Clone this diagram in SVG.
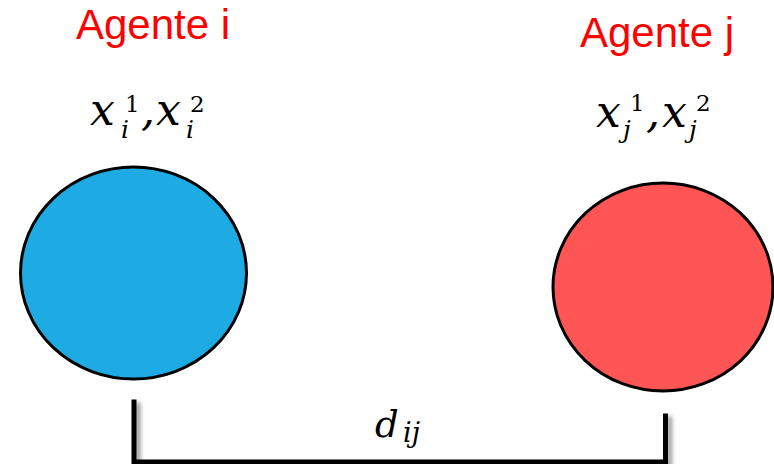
<svg xmlns="http://www.w3.org/2000/svg" width="774" height="464" viewBox="0 0 774 464">
<defs>
<style>
.lbl{font-family:"Liberation Sans",Arial,sans-serif;font-size:42px;fill:#ff0000;text-anchor:middle}
.m{font-family:"DejaVu Serif",serif;font-style:italic;font-size:44px;fill:#000}
.s{font-size:25px}
.n{font-family:"DejaVu Serif",serif;font-style:normal;font-size:23px}
.node{stroke:#000;stroke-width:3}
.br{fill:none;stroke:#000;stroke-width:5;stroke-linecap:square}
</style>
<filter id="sh" x="-10%" y="-10%" width="130%" height="130%">
<feDropShadow dx="4" dy="3" stdDeviation="2" flood-color="#000" flood-opacity="0.4"/>
</filter>
</defs>
<rect width="774" height="464" fill="#fff"/>
<g id="agente-i">
<ellipse class="node" cx="133.5" cy="273" rx="113" ry="106" fill="#1eabe3"/>
<text class="lbl" x="153" y="39">Agente i</text>
<text class="m"><tspan x="90" y="125">x</tspan><tspan class="n" x="125" y="112">1</tspan><tspan class="s" x="121" y="138">i</tspan><tspan x="141" y="125">,</tspan><tspan x="156" y="125">x</tspan><tspan class="n" x="190" y="112">2</tspan><tspan class="s" x="186" y="138">i</tspan></text>
</g>
<g id="agente-j">
<ellipse class="node" cx="663" cy="287" rx="110" ry="104" fill="#ff5555"/>
<text class="lbl" x="657" y="47">Agente j</text>
<text class="m"><tspan x="596" y="127">x</tspan><tspan class="n" x="630" y="111">1</tspan><tspan class="s" x="623" y="138">j</tspan><tspan x="646" y="127">,</tspan><tspan x="662" y="127">x</tspan><tspan class="n" x="696" y="111">2</tspan><tspan class="s" x="689" y="138">j</tspan></text>
</g>
<g id="connectors">
<path class="br" filter="url(#sh)" d="M134 402 V462 H665.5 V416"/>
<text class="m" style="font-size:37px"><tspan x="375" y="437">d</tspan><tspan style="font-size:27px" x="403" y="442">ij</tspan></text>
</g>
</svg>
